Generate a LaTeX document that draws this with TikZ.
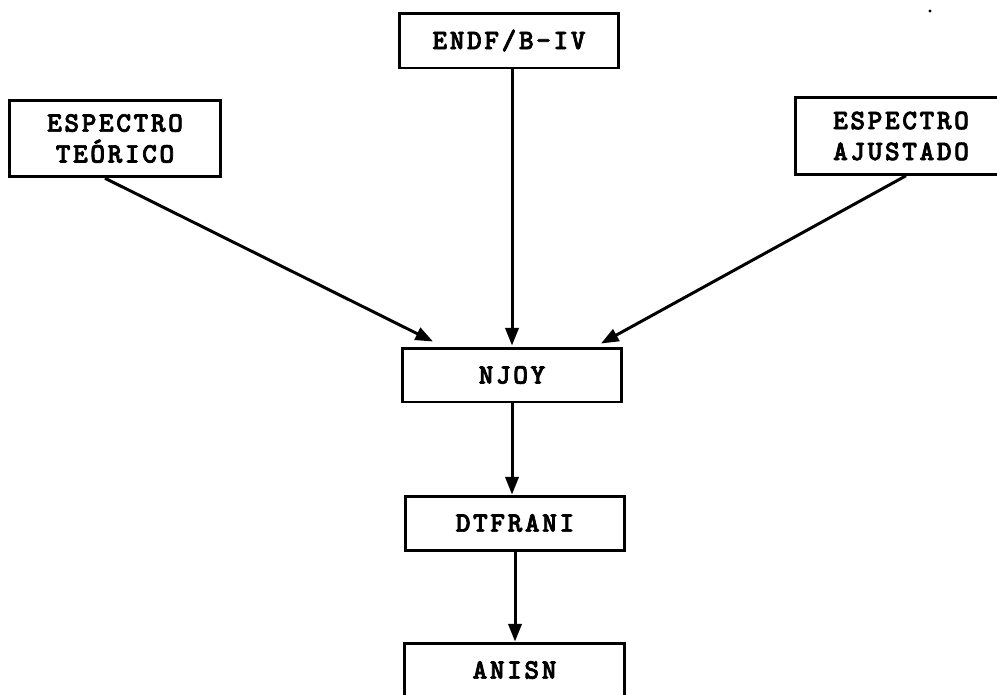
\documentclass[tikz,border=0pt]{standalone}
\usepackage{fontspec}
\newfontfamily\progfont{lmmonolt10-bold.otf}[LetterSpace=9, FakeBold=2.5]
\usetikzlibrary{arrows.meta, calc}

\tikzset{
  prog/.style={draw, line width=1.7pt, minimum width=4.4cm, minimum height=1.08cm,
    inner sep=0pt, align=center,
    font=\fontsize{16}{17.6}\selectfont\progfont},
  spec/.style={prog, minimum width=4.24cm, minimum height=1.53cm},
  arr/.style={line width=1.7pt, -{Triangle[length=10pt, width=7.5pt]}}
}

\begin{document}
\begin{tikzpicture}[x=0.02cm, y=-0.02cm]

% Frame (reference size, in pixels)
\fill[white] (0,0) rectangle (997,694);
\useasboundingbox (0,0) rectangle (997,694);

% === Inputs ===
\node[prog, minimum height=1.1cm] (endf) at (509,40.5) {ENDF/B-IV};
\node[spec] (teo) at (115,138.5) {ESPECTRO\\TEÓRICO};
\node[spec] (ajus) at (901,136) {ESPECTRO\\AJUSTADO};

% === Processing chain ===
\node[prog] (njoy) at (512,375) {NJOY};
\node[prog] (dtf) at (515,523) {DTFRANI};
\node[prog] (anisn) at (514.5,670) {ANISN};

% Arrows into NJOY
\draw[arr] ($(teo.south)+(-10,0)$) -- ($(njoy.north)+(-79,-5)$);
\draw[arr] (endf.south -| njoy.north) -- ($(njoy.north)+(0,-1)$);
\draw[arr] ($(ajus.south)+(5,0)$) -- ($(njoy.north)+(89,-3)$);

% Chain below
\draw[arr] (njoy.south) -- (njoy.south |- dtf.north);
\draw[arr] (dtf.south) -- (dtf.south |- anisn.north);

% speck in the upper right corner
\fill (930,11) circle (1.6);

\end{tikzpicture}
\end{document}
